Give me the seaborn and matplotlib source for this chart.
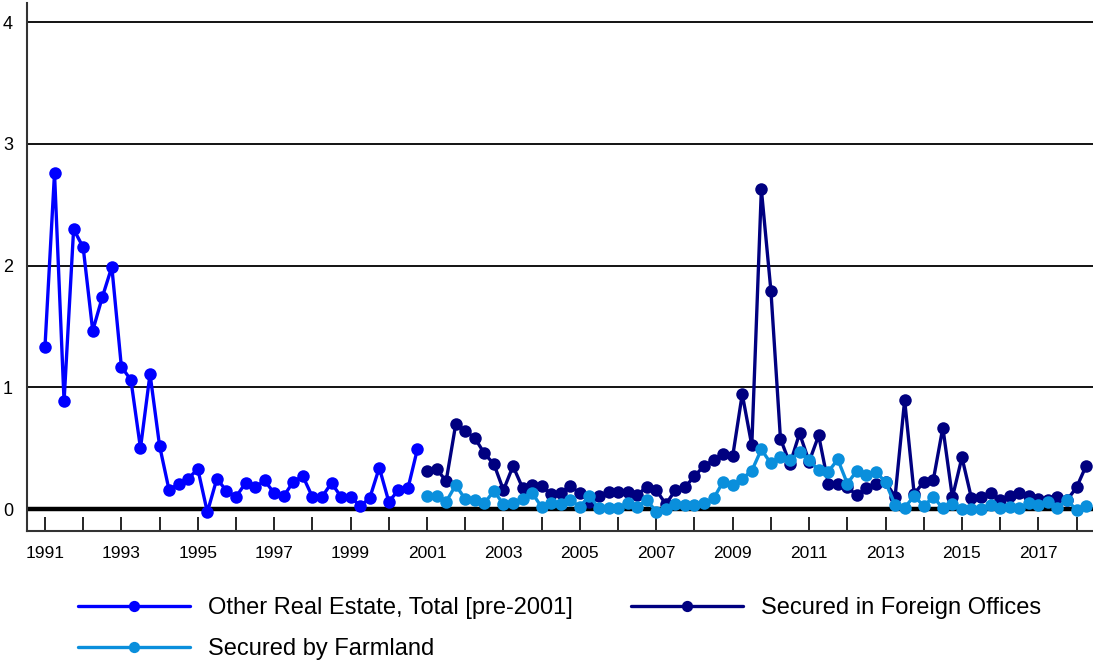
import numpy as np
import pandas as pd
import matplotlib
matplotlib.use("Agg")
import matplotlib.pyplot as plt
from matplotlib.ticker import MultipleLocator
import seaborn as sns

# quarterly series
other_re_quarters = pd.period_range("1991Q1", "2000Q4", freq="Q")
other_re = [1.33, 2.76, 0.885, 2.30, 2.15, 1.465, 1.74, 1.99,
            1.17, 1.06, 0.50, 1.11, 0.52, 0.154, 0.21, 0.25,
            0.33, -0.025, 0.25, 0.15, 0.10, 0.215, 0.178, 0.235,
            0.13, 0.107, 0.225, 0.27, 0.10, 0.10, 0.215, 0.10,
            0.10, 0.025, 0.09, 0.34, 0.06, 0.156, 0.17, 0.495]

new_quarters = pd.period_range("2001Q1", "2018Q2", freq="Q")
foreign_offices = [0.31, 0.33, 0.23, 0.695,
                   0.64, 0.585, 0.457, 0.37,
                   0.156, 0.353, 0.175, 0.20,
                   0.19, 0.12, 0.134, 0.19,
                   0.13, 0.06, 0.107, 0.137,
                   0.137, 0.137, 0.115, 0.183,
                   0.156, 0.04, 0.156, 0.18,
                   0.27, 0.356, 0.40, 0.45,
                   0.435, 0.945, 0.523, 2.627,
                   1.794, 0.578, 0.37, 0.622,
                   0.39, 0.605, 0.21, 0.21,
                   0.178, 0.115, 0.17, 0.21,
                   0.225, 0.10, 0.896, 0.123,
                   0.225, 0.238, 0.67, 0.096,
                   0.425, 0.088, 0.10, 0.134,
                   0.074, 0.107, 0.134, 0.11,
                   0.08, 0.074, 0.096, 0.074,
                   0.178, 0.356]
farmland = [0.107, 0.107, 0.06, 0.197,
            0.082, 0.074, 0.047, 0.15,
            0.039, 0.052, 0.08, 0.134,
            0.015, 0.047, 0.04, 0.074,
            0.02, 0.107, 0.006, 0.006,
            0.01, 0.052, 0.02, 0.074,
            -0.02, 0.0, 0.04, 0.035,
            0.035, 0.047, 0.088, 0.225,
            0.197, 0.25, 0.315, 0.49,
            0.375, 0.43, 0.40, 0.47,
            0.40, 0.32, 0.307, 0.408,
            0.21, 0.315, 0.28, 0.307,
            0.22, 0.035, 0.012, 0.107,
            0.025, 0.10, 0.006, 0.041,
            0.0, 0.0, 0.0, 0.033,
            0.011, 0.02, 0.005, 0.047,
            0.033, 0.055, 0.011, 0.074,
            -0.008, 0.025]

series_names = ["Other Real Estate, Total [pre-2001]",
                "Secured by Farmland",
                "Secured in Foreign Offices"]
series_colors = ["#0000ff", "#0a8fdc", "#000080"]


def to_frame(quarters, values, name):
    t = quarters.year + (quarters.quarter - 1) / 4.0
    return pd.DataFrame({"date": t, "value": values, "series": name})


df = pd.concat([to_frame(other_re_quarters, other_re, series_names[0]),
                to_frame(new_quarters, foreign_offices, series_names[2]),
                to_frame(new_quarters, farmland, series_names[1])],
               ignore_index=True)

sns.set_style("white")
plt.rcParams["font.family"] = ["Liberation Sans", "DejaVu Sans"]
plt.rcParams["text.color"] = "black"
plt.rcParams["xtick.color"] = "black"
plt.rcParams["ytick.color"] = "black"

fig = plt.figure(figsize=(10.93, 6.64), dpi=100)
ax = fig.add_axes([0.0247, 0.2003, 0.9753, 0.7947])

# gridlines first so the series sit on top
for v in [1, 2, 3, 4]:
    ax.axhline(v, color="black", lw=1.3, zorder=1)
ax.axhline(0, color="black", lw=3.2, zorder=1)

sns.lineplot(data=df, x="date", y="value", hue="series",
             hue_order=[series_names[0], series_names[2], series_names[1]],
             palette={n: c for n, c in zip(series_names, series_colors)},
             marker="o", markersize=9, markeredgewidth=0, linewidth=2.4,
             legend=False, ax=ax, zorder=3)

ax.set_xlim(1990.53, 2018.43)
ax.set_ylim(-0.18, 4.155)
ax.set_xlabel("")
ax.set_ylabel("")

ax.xaxis.set_minor_locator(MultipleLocator(1))
ax.set_xticks(np.arange(1991, 2018, 2))
ax.set_xticklabels([str(y) for y in range(1991, 2018, 2)])
ax.set_yticks([0, 1, 2, 3, 4])
ax.tick_params(axis="x", which="both", direction="in", length=10, width=1.2,
               color="black", labelcolor="black", labelsize=12.5, pad=11,
               bottom=True)
ax.tick_params(axis="y", length=0, labelsize=13, labelcolor="black", pad=10)

for s in ["top", "right"]:
    ax.spines[s].set_visible(False)
for s in ["left", "bottom"]:
    ax.spines[s].set_color("#333333")
    ax.spines[s].set_linewidth(1.5)

lines = ax.get_lines()[-3:]
handles = [lines[0], lines[2], lines[1]]
labels = [series_names[0], series_names[1], series_names[2]]
fig.legend(handles, labels, ncol=2, loc="upper left",
           bbox_to_anchor=(0.0714, 0.1009), frameon=False, fontsize=17,
           handlelength=4.75, handletextpad=0.76, columnspacing=2.46,
           labelspacing=0.8, borderpad=0, borderaxespad=0, markerscale=0.9,
           labelcolor="black")

fig.savefig("out.png", dpi=100)
